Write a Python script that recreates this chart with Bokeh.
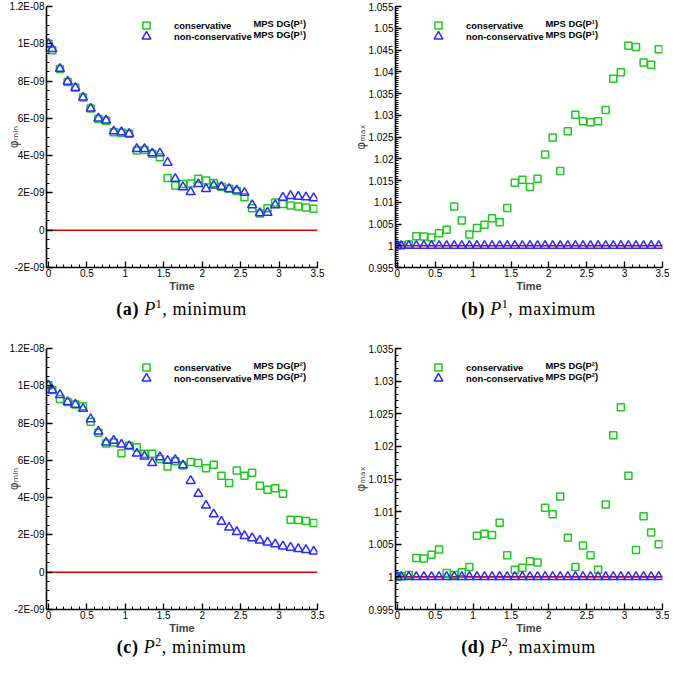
import math
from bokeh.plotting import figure
from bokeh.models import Range1d, FixedTicker, Span, Label, Legend, LegendItem, Div
from bokeh.layouts import column, row
from bokeh.embed import file_html
from bokeh.resources import INLINE

# ---------------- data ----------------
time = [0.0, 0.05, 0.15, 0.25, 0.35, 0.45, 0.55, 0.65, 0.75, 0.85, 0.95, 1.05,
        1.15, 1.25, 1.35, 1.45, 1.55, 1.65, 1.75, 1.85, 1.95, 2.05, 2.15, 2.25,
        2.35, 2.45, 2.55, 2.65, 2.75, 2.85, 2.95, 3.05, 3.15, 3.25, 3.35, 3.45]

p1_min_cons = [10.0e-9, 9.65e-9, 8.65e-9, 7.95e-9, 7.66e-9, 7.12e-9, 6.53e-9, 5.97e-9,
               5.87e-9, 5.26e-9, 5.23e-9, 5.17e-9, 4.27e-9, 4.30e-9, 4.10e-9, 3.92e-9,
               2.80e-9, 2.40e-9, 2.48e-9, 2.50e-9, 2.76e-9, 2.66e-9, 2.53e-9, 2.33e-9,
               2.22e-9, 2.10e-9, 1.77e-9, 1.18e-9, 0.89e-9, 1.18e-9, 1.49e-9, 1.41e-9,
               1.32e-9, 1.27e-9, 1.22e-9, 1.15e-9]
p1_min_noncons = [10.0e-9, 9.72e-9, 8.66e-9, 7.97e-9, 7.64e-9, 7.12e-9, 6.53e-9, 6.00e-9,
                  5.89e-9, 5.31e-9, 5.26e-9, 5.17e-9, 4.36e-9, 4.36e-9, 4.13e-9, 4.13e-9,
                  3.63e-9, 2.76e-9, 2.31e-9, 2.05e-9, 2.48e-9, 2.22e-9, 2.40e-9, 2.33e-9,
                  2.22e-9, 2.14e-9, 2.01e-9, 1.35e-9, 0.92e-9, 0.94e-9, 1.35e-9, 1.75e-9,
                  1.84e-9, 1.80e-9, 1.77e-9, 1.72e-9]

p1_max_cons = [1.0000, 1.0001, 1.0003, 1.0022, 1.0021, 1.0019, 1.0029, 1.0037, 1.0090,
               1.0058, 1.0026, 1.0041, 1.0048, 1.0063, 1.0054, 1.0087, 1.0145, 1.0152,
               1.0135, 1.0154, 1.0210, 1.0249, 1.0172, 1.0263, 1.0301, 1.0286, 1.0284,
               1.0286, 1.0312, 1.0384, 1.0399, 1.0460, 1.0457, 1.0421, 1.0416, 1.0452]
p1_max_noncons = [1.0, 1.0, 1.0, 1.0, 1.0, 1.0, 1.0, 1.0, 1.0, 1.0, 1.0, 1.0,
                  1.0, 1.0, 1.0, 1.0, 1.0, 1.0, 1.0, 1.0, 1.0, 1.0, 1.0, 1.0,
                  1.0, 1.0, 1.0, 1.0, 1.0, 1.0, 1.0, 1.0, 1.0, 1.0, 1.0, 1.0]

p2_min_cons = [10.03e-9, 9.77e-9, 9.29e-9, 9.13e-9, 8.99e-9, 8.90e-9, 8.07e-9, 7.48e-9,
               6.90e-9, 6.96e-9, 6.38e-9, 6.78e-9, 6.70e-9, 6.35e-9, 6.35e-9, 6.07e-9,
               5.67e-9, 5.95e-9, 5.72e-9, 5.91e-9, 5.86e-9, 5.58e-9, 5.77e-9, 5.18e-9,
               4.78e-9, 5.46e-9, 5.18e-9, 5.34e-9, 4.64e-9, 4.42e-9, 4.50e-9, 4.21e-9,
               2.82e-9, 2.80e-9, 2.75e-9, 2.64e-9]
p2_min_noncons = [10.03e-9, 9.77e-9, 9.51e-9, 9.13e-9, 8.99e-9, 8.77e-9, 8.21e-9, 7.55e-9,
                  6.96e-9, 7.06e-9, 6.85e-9, 6.77e-9, 6.37e-9, 6.21e-9, 5.86e-9, 6.17e-9,
                  5.98e-9, 6.03e-9, 5.74e-9, 4.90e-9, 4.21e-9, 3.58e-9, 3.11e-9, 2.71e-9,
                  2.40e-9, 2.16e-9, 1.95e-9, 1.83e-9, 1.70e-9, 1.60e-9, 1.50e-9, 1.39e-9,
                  1.32e-9, 1.25e-9, 1.20e-9, 1.11e-9]

p2_max_cons = [1.0000, 1.0001, 1.0003, 1.0029, 1.0028, 1.0034, 1.0042, 1.0006, 1.0003,
               1.0007, 1.0015, 1.0063, 1.0066, 1.0064, 1.0083, 1.0033, 1.0011, 1.0014,
               1.0024, 1.0022, 1.0106, 1.0096, 1.0123, 1.0060, 1.0015, 1.0048, 1.0033,
               1.0011, 1.0111, 1.0217, 1.0260, 1.0155, 1.0041, 1.0093, 1.0068, 1.0050]
p2_max_noncons = [1.0, 1.0, 1.0, 1.0, 1.0, 1.0, 1.0, 1.0, 1.0, 1.0, 1.0, 1.0,
                  1.0, 1.0, 1.0, 1.0, 1.0, 1.0, 1.0, 1.0, 1.0, 1.0, 1.0, 1.0,
                  1.0, 1.0, 1.0, 1.0, 1.0, 1.0, 1.0, 1.0, 1.0, 1.0, 1.0, 1.0]

x_ticks = [0, 0.5, 1, 1.5, 2, 2.5, 3, 3.5]
x_tick_labels = ["0", "0.5", "1", "1.5", "2", "2.5", "3", "3.5"]

min_ticks = [-2e-9, 0.0, 2e-9, 4e-9, 6e-9, 8e-9, 1e-8, 1.2e-8]
min_tick_labels = ["-2E-09", "0", "2E-09", "4E-09", "6E-09", "8E-09", "1E-08", "1.2E-08"]

max1_ticks = [0.995, 1.0, 1.005, 1.01, 1.015, 1.02, 1.025, 1.03, 1.035, 1.04, 1.045, 1.05, 1.055]
max1_tick_labels = ["0.995", "1", "1.005", "1.01", "1.015", "1.02", "1.025", "1.03",
                    "1.035", "1.04", "1.045", "1.05", "1.055"]
max2_ticks = [0.995, 1.0, 1.005, 1.01, 1.015, 1.02, 1.025, 1.03, 1.035]
max2_tick_labels = ["0.995", "1", "1.005", "1.01", "1.015", "1.02", "1.025", "1.03", "1.035"]

x_label = "Time"
y_label_min = "\u03c6\u2098\u1d62\u2099"   # phi_min
y_label_max = "\u03c6\u2098\u2090\u2093"   # phi_max
legend_cons = "conservative"
legend_noncons = "non-conservative"
legend_method = ["MPS DG(P\u00b9)", "MPS DG(P\u00b2)"]
captions = [("(a)", "1", "minimum"), ("(b)", "1", "maximum"),
            ("(c)", "2", "minimum"), ("(d)", "2", "maximum")]

# ---------------- style ----------------
GREEN = "#1fc81f"
BLUE = "#2b2bff"
RED = "#d80000"
SANS = "Liberation Sans"
FWA = 271  # frame width, left column
FWB = 267  # frame width, right column
FH = 262   # frame height


def minor_list(lo, hi, step):
    n = int(round((hi - lo) / step))
    return [lo + i * step for i in range(n + 1)]


def make_panel(cons, noncons, yr, yticks, ylabels, yminor, red_at, method, ylab,
               ylab_standoff, fw, lb, rb, tb, bb, leg_x, mps_x):
    width = lb + fw + rb
    height = tb + FH + bb
    p = figure(width=width, height=height, output_backend="svg", toolbar_location=None,
               x_range=Range1d(-0.025, 3.5), y_range=Range1d(yr[0], yr[1]),
               min_border_left=lb, min_border_right=rb, min_border_top=tb,
               min_border_bottom=bb, background_fill_color="white",
               border_fill_color="white")
    p.grid.visible = False
    p.outline_line_color = None

    xa = p.xaxis[0]
    ya = p.yaxis[0]
    xa.ticker = FixedTicker(ticks=x_ticks, minor_ticks=minor_list(0.0, 3.5, 0.1))
    xa.major_label_overrides = dict(zip(x_ticks, x_tick_labels))
    ya.ticker = FixedTicker(ticks=yticks, minor_ticks=yminor)
    ya.major_label_overrides = dict(zip(yticks, ylabels))
    for ax in (xa, ya):
        ax.axis_line_width = 1.6
        ax.axis_line_color = "black"
        ax.major_tick_in = 6
        ax.major_tick_out = 0
        ax.minor_tick_in = 3
        ax.minor_tick_out = 0
        ax.major_tick_line_width = 1.3
        ax.minor_tick_line_width = 1.0
        ax.major_tick_line_color = "black"
        ax.minor_tick_line_color = "black"
        ax.major_label_text_font = SANS
        ax.major_label_text_font_size = "10px"
        ax.major_label_text_color = "black"
    xa.major_label_standoff = 1
    ya.major_label_standoff = 2
    xa.axis_label = x_label
    xa.axis_label_text_font = SANS
    xa.axis_label_text_font_style = "bold"
    xa.axis_label_text_font_size = "11px"
    xa.axis_label_standoff = 0
    ya.axis_label = ylab
    ya.axis_label_text_font = "DejaVu Sans"
    ya.axis_label_text_font_style = "normal"
    ya.axis_label_text_font_size = "12px"
    ya.axis_label_standoff = ylab_standoff

    span = Span(location=red_at, dimension="width", line_color=RED, line_width=1.6,
                level="underlay")
    p.add_layout(span)

    r1 = p.scatter(time, cons, marker="square", size=7, fill_color=None,
                   line_color=GREEN, line_width=1.5)
    r2 = p.scatter(time, noncons, marker="triangle", size=9, fill_color=None,
                   line_color=BLUE, line_width=1.5)

    lg1 = Legend(items=[LegendItem(label=legend_cons, renderers=[r1])],
                 location=(leg_x - 9, FH - 29), padding=0, margin=0,
                 glyph_width=18, glyph_height=18, label_height=18, label_width=10,
                 label_standoff=19, border_line_color=None,
                 background_fill_alpha=0.0, label_text_font=SANS,
                 label_text_font_style="bold", label_text_font_size="9.4px",
                 label_text_color="black")
    lg2 = Legend(items=[LegendItem(label=legend_noncons, renderers=[r2])],
                 location=(leg_x - 11, FH - 42), padding=0, margin=0,
                 glyph_width=22, glyph_height=22, label_height=22, label_width=10,
                 label_standoff=17, border_line_color=None,
                 background_fill_alpha=0.0, label_text_font=SANS,
                 label_text_font_style="bold", label_text_font_size="9.4px",
                 label_text_color="black")
    p.add_layout(lg1)
    p.add_layout(lg2)
    for yy in (FH - 18, FH - 29):
        p.add_layout(Label(x=mps_x, y=yy, x_units="screen", y_units="screen",
                           text=method, text_font=SANS, text_font_style="bold",
                           text_font_size="9.4px", text_baseline="middle",
                           text_align="left", text_color="black"))
    return p


def caption_div(label, sup, word, width, height, left, fw, top_pad):
    html = (
        f'<div style="margin-left:{left}px;width:{fw}px;text-align:center;'
        f"font-family:'Liberation Serif',serif;font-size:18px;line-height:21px;"
        f'letter-spacing:0.6px;padding-top:{top_pad}px;color:#000;white-space:nowrap;">'
        f'<b>{label}</b> <i>P</i><span style="font-size:12px;vertical-align:7px;'
        f'line-height:0;">{sup}</span>, {word}</div>'
    )
    return Div(text=html, width=width, height=height, margin=0)


min_minor = minor_list(-2e-9, 1.2e-8, 0.5e-9)
max1_minor = minor_list(0.995, 1.055, 0.0005)
max2_minor = minor_list(0.995, 1.035, 0.001)

LBA, RBA = 46, 26
LBB, RBB = 52, 7
WA = LBA + FWA + RBA
WB = LBB + FWB + RBB

pa = make_panel(p1_min_cons, p1_min_noncons, (-2e-9, 1.2e-8), min_ticks, min_tick_labels,
                min_minor, 0.0, legend_method[0], y_label_min, -15, FWA, LBA, RBA, 6, 26,
                100, 207)
pb = make_panel(p1_max_cons, p1_max_noncons, (0.995, 1.055), max1_ticks, max1_tick_labels,
                max1_minor, 1.0, legend_method[0], y_label_max, -3, FWB, LBB, RBB, 6, 26,
                43, 150)
pc = make_panel(p2_min_cons, p2_min_noncons, (-2e-9, 1.2e-8), min_ticks, min_tick_labels,
                min_minor, 0.0, legend_method[1], y_label_min, -15, FWA, LBA, RBA, 24, 26,
                100, 207)
pd = make_panel(p2_max_cons, p2_max_noncons, (0.995, 1.035), max2_ticks, max2_tick_labels,
                max2_minor, 1.0, legend_method[1], y_label_max, -3, FWB, LBB, RBB, 24, 26,
                43, 150)

ca = caption_div(*captions[0], WA, 30, LBA, FWA, 5)
cb = caption_div(*captions[1], WB, 30, LBB, FWB, 5)
cc = caption_div(*captions[2], WA, 21, LBA, FWA, 1)
cd = caption_div(*captions[3], WB, 21, LBB, FWB, 1)

layout = column(row(pa, pb), row(ca, cb), row(pc, pd), row(cc, cd))

with open("out.html", "w") as f:
    f.write(file_html(layout, INLINE))
